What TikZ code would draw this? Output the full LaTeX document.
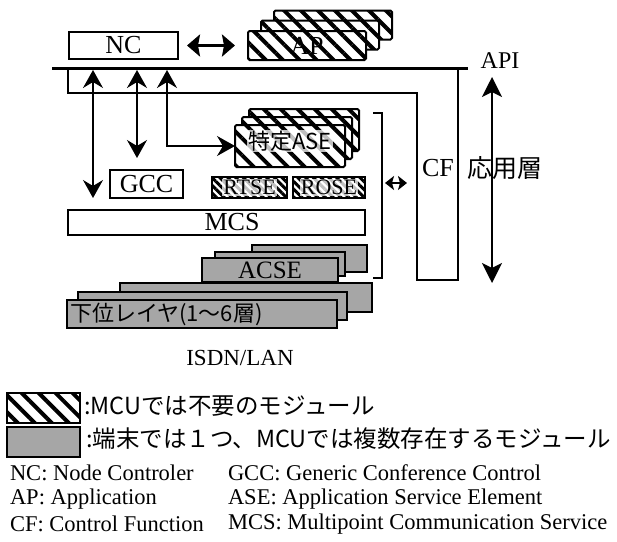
\documentclass[tikz,border=0pt]{standalone}
\usepackage{fontspec}
\setmainfont{Liberation Serif}
\newfontfamily\jp{Noto Sans CJK JP}
\usetikzlibrary{arrows.meta,patterns.meta}
\newcommand\fsz[1]{\fontsize{#1}{#1}\selectfont}
\begin{document}
\begin{tikzpicture}[x=1pt,y=-1pt,
  every node/.style={inner sep=0pt, outer sep=0pt},
  plainbox/.style={draw, line width=2pt, fill=white},
  hatchbox/.style={draw, line width=2pt, rounded corners=1.5pt, preaction={fill=white},
    pattern={Lines[angle=-45,distance=12pt,line width=4pt]}},
  darkbox/.style={draw, line width=2pt, preaction={fill=white},
    pattern={Lines[angle=-45,distance=5.5pt,line width=3pt]}},
  dotbox/.style={draw, line width=2pt, fill=black!35},
  halo/.style={fill=white, fill opacity=0.75, text opacity=1, inner sep=1pt},
  arr/.style={line width=1.8pt, {Stealth[length=18pt,width=20pt,inset=6pt]}-{Stealth[length=18pt,width=20pt,inset=6pt]}},
  bigarr/.style={line width=3.5pt, {Stealth[length=13pt,width=22pt,inset=2pt]}-{Stealth[length=13pt,width=22pt,inset=2pt]}},
  vertarr/.style={line width=2.2pt, {Stealth[length=20pt,width=20pt,inset=5pt]}-{Stealth[length=20pt,width=20pt,inset=5pt]}},
  smallarr/.style={line width=2.5pt, {Stealth[length=9pt,width=14pt,inset=2pt]}-{Stealth[length=9pt,width=14pt,inset=2pt]}},
  legtext/.style={anchor=west, font=\fsz{22.5}}
]
\useasboundingbox (0,0) rectangle (617,541);

% NC and AP
\node[plainbox, minimum width=109pt, minimum height=27pt] (nc) at (123.5,45.5) {\fsz{26}NC};
\node[hatchbox, minimum width=118pt, minimum height=29pt] (apb) at (333,25) {};
\node[hatchbox, minimum width=118pt, minimum height=29pt] (apm) at (320,35) {};
\node[hatchbox, minimum width=118pt, minimum height=29pt] (apf) at (307,45.5) {\fsz{26}AP};
\draw[bigarr, shorten <=9pt, shorten >=13pt] (nc) -- (apf);

% API line and CF frame
\coordinate (apiL) at (52,68);
\coordinate (apiR) at (468,68);
\draw[line width=2pt] (68,68) -- (68,93) -- (417,93) -- (417,280) -- (458,280) -- (458,68);
\draw[line width=3pt] (apiL) -- (apiR);
\node (api) at (500,61) {\fsz{24}API};
\node (cf) at (438,168) {\fsz{26}CF};
\node (oyo) at (505,168) {\jp\fsz{25}応用層};
\coordinate (vt) at (492,77);
\coordinate (vb) at (492,283);
\draw[vertarr] (vt) -- (vb);

% GCC
\node[plainbox, minimum width=73pt, minimum height=28pt] (gcc) at (146.5,184) {\fsz{26}GCC};

% ASE stack
\node[hatchbox, minimum width=110pt, minimum height=42pt] (aseb) at (304,130) {};
\node[hatchbox, minimum width=110pt, minimum height=42pt] (asem) at (297,138) {};
\node[hatchbox, minimum width=110pt, minimum height=42pt] (asef) at (290,146) {};
\node[halo] (asetext) at (290,141) {\jp\fsz{22}特定ASE};

% RTSE ROSE
\node[darkbox, minimum width=75pt, minimum height=21pt] (rtse) at (249.5,187.5) {};
\node[halo] (rtsetext) at (249.5,187.5) {\fsz{22}RTSE};
\node[darkbox, minimum width=72pt, minimum height=21pt] (rose) at (329,187.5) {};
\node[halo] (rosetext) at (329,187.5) {\fsz{22}ROSE};

% MCS
\node[plainbox, minimum width=297pt, minimum height=25pt] (mcs) at (216.5,222.5) {};
\node (mcstext) at (232,222.5) {\fsz{26}MCS};

% ACSE stack
\node[dotbox, minimum width=115pt, minimum height=27pt] (acseb) at (309.5,258.5) {};
\node[dotbox, minimum width=130pt, minimum height=24pt] (acsem) at (280,264) {};
\node[dotbox, minimum width=136pt, minimum height=24pt] (acsef) at (270,270) {\fsz{25}ACSE};

% lower layers stack
\node[dotbox, minimum width=252pt, minimum height=29pt] (lowb) at (246,297.5) {};
\node[dotbox, minimum width=269pt, minimum height=28pt] (lowm) at (212.5,306) {};
\node[dotbox, minimum width=270pt, minimum height=28pt] (lowf) at (202,314) {};
\node[anchor=west] (lowtext) at (70,314) {\jp\fsz{22}下位レイヤ(1〜6層)};

% arrows from API
\coordinate (a1t) at (93,70);
\coordinate (a1b) at (93,198);
\coordinate (a2t) at (137,70);
\coordinate (a2b) at (137,158);
\coordinate (a3t) at (167,70);
\draw[arr] (a1t) -- (a1b);
\draw[arr] (a2t) -- (a2b);
\draw[arr] (a3t) |- (asef.west);

% bracket and small arrow
\coordinate (brt) at (373,113);
\coordinate (brb) at (373,278);
\draw[line width=2pt] (brt) -- (382,113) -- (382,278) -- (brb);
\coordinate (s1) at (385,183);
\coordinate (s2) at (407,183);
\draw[smallarr] (s1) -- (s2);

% ISDN/LAN
\node (isdn) at (240,358) {\fsz{23}ISDN/LAN};

% legend
\node[hatchbox, rounded corners=0pt, minimum width=73pt, minimum height=30pt] (lh) at (43.5,408) {};
\node[dotbox, minimum width=73pt, minimum height=30pt] (ld) at (43.5,442) {};
\node[anchor=west] (lht) at (84,406) {\jp\fsz{23.5}:MCUでは不要のモジュール};
\node[anchor=west] (ldt) at (86,439) {\jp\fsz{23.5}:端末では１つ、MCUでは複数存在するモジュール};

\node[legtext] (l1) at (10,473) {NC: Node Controler};
\node[legtext] (l2) at (10,499) {AP: Application};
\node[legtext] (l3) at (10,524) {CF: Control Function};
\node[legtext] (r1) at (228,473) {GCC: Generic Conference Control};
\node[legtext] (r2) at (228,499) {ASE: Application Service Element};
\node[legtext] (r3) at (228,524) {MCS: Multipoint Communication Service};
\end{tikzpicture}
\end{document}
